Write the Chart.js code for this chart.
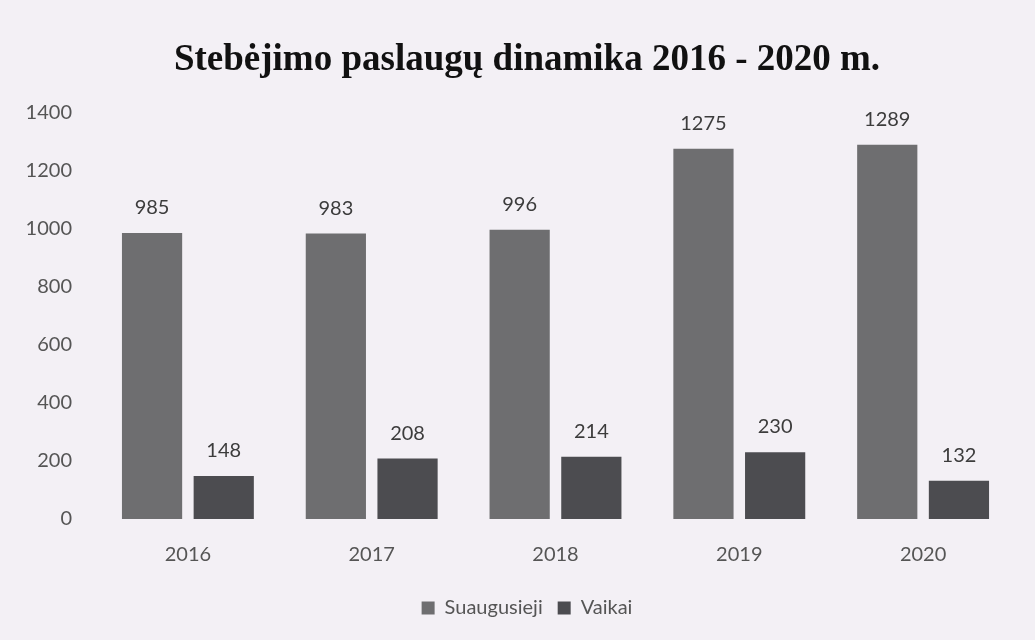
<!DOCTYPE html>
<html>
<head>
<meta charset="utf-8">
<script src="https://cdn.jsdelivr.net/npm/chart.js@4/dist/chart.umd.min.js"></script>
<style>
  html, body { margin: 0; padding: 0; background: #f3f0f5; }
  #wrap { width: 1035px; height: 640px; }
</style>
</head>
<body>
<div id="wrap"><canvas id="chart" width="1035" height="640"></canvas></div>
<script>
// duomenys
const years = ['2016', '2017', '2018', '2019', '2020'];
const suaugusieji = [985, 983, 996, 1275, 1289];
const vaikai = [148, 208, 214, 230, 132];
const yTicks = [0, 200, 400, 600, 800, 1000, 1200, 1400];

const tickFont = { family: 'Lato, "Open Sans", sans-serif', size: 20 };

// fonas
const bgPlugin = {
  id: 'bg',
  beforeDraw(chart) {
    const ctx = chart.ctx;
    ctx.save();
    ctx.fillStyle = '#f3f0f5';
    ctx.fillRect(0, 0, chart.width, chart.height);
    ctx.restore();
  }
};

// reikšmės virš stulpelių
const valueLabels = {
  id: 'valueLabels',
  afterDatasetsDraw(chart) {
    const ctx = chart.ctx;
    ctx.save();
    ctx.font = '20px Lato, "Open Sans", sans-serif';
    ctx.fillStyle = '#3c3c3c';
    ctx.textAlign = 'center';
    ctx.textBaseline = 'alphabetic';
    chart.data.datasets.forEach((ds, i) => {
      chart.getDatasetMeta(i).data.forEach((bar, j) => {
        ctx.fillText(ds.data[j], bar.x, bar.y - 19);
      });
    });
    ctx.restore();
  }
};

new Chart(document.getElementById('chart'), {
  type: 'bar',
  data: {
    labels: years,
    datasets: [
      {
        label: 'Suaugusieji',
        data: suaugusieji,
        backgroundColor: '#6e6e70',
        categoryPercentage: 0.78,
        barPercentage: 0.84
      },
      {
        label: 'Vaikai',
        data: vaikai,
        backgroundColor: '#4c4c50',
        categoryPercentage: 0.78,
        barPercentage: 0.84
      }
    ]
  },
  options: {
    responsive: false,
    animation: false,
    layout: { padding: { left: 20, right: 1, top: 0, bottom: 12 } },
    plugins: {
      title: {
        display: true,
        text: 'Stebėjimo paslaugų dinamika 2016 - 2020 m.',
        color: '#111',
        font: { family: '"Liberation Serif", "Times New Roman", serif', size: 37, weight: 'bold' },
        padding: { top: 38, bottom: 30 }
      },
      legend: {
        position: 'bottom',
        labels: {
          color: '#555',
          font: { family: 'Lato, "Open Sans", sans-serif', size: 20 },
          boxWidth: 13,
          boxHeight: 13,
          padding: 15
        }
      },
      tooltip: { enabled: false }
    },
    scales: {
      x: {
        grid: { display: false },
        border: { display: false },
        ticks: { color: '#555', font: tickFont, padding: 16 }
      },
      y: {
        min: 0,
        max: 1400,
        afterFit(scale) { scale.width = 76; },
        afterBuildTicks(scale) { scale.ticks = yTicks.map(v => ({ value: v })); },
        grid: { display: false },
        border: { display: false },
        ticks: { color: '#555', font: tickFont, padding: 16, callback: v => String(v) }
      },
      // tuščia dešinė ašis – tik tarpas
      y2: {
        type: 'linear',
        position: 'right',
        afterFit(scale) { scale.width = 19; },
        grid: { display: false },
        border: { display: false },
        ticks: { display: false }
      }
    }
  },
  plugins: [bgPlugin, valueLabels]
});
</script>
</body>
</html>
